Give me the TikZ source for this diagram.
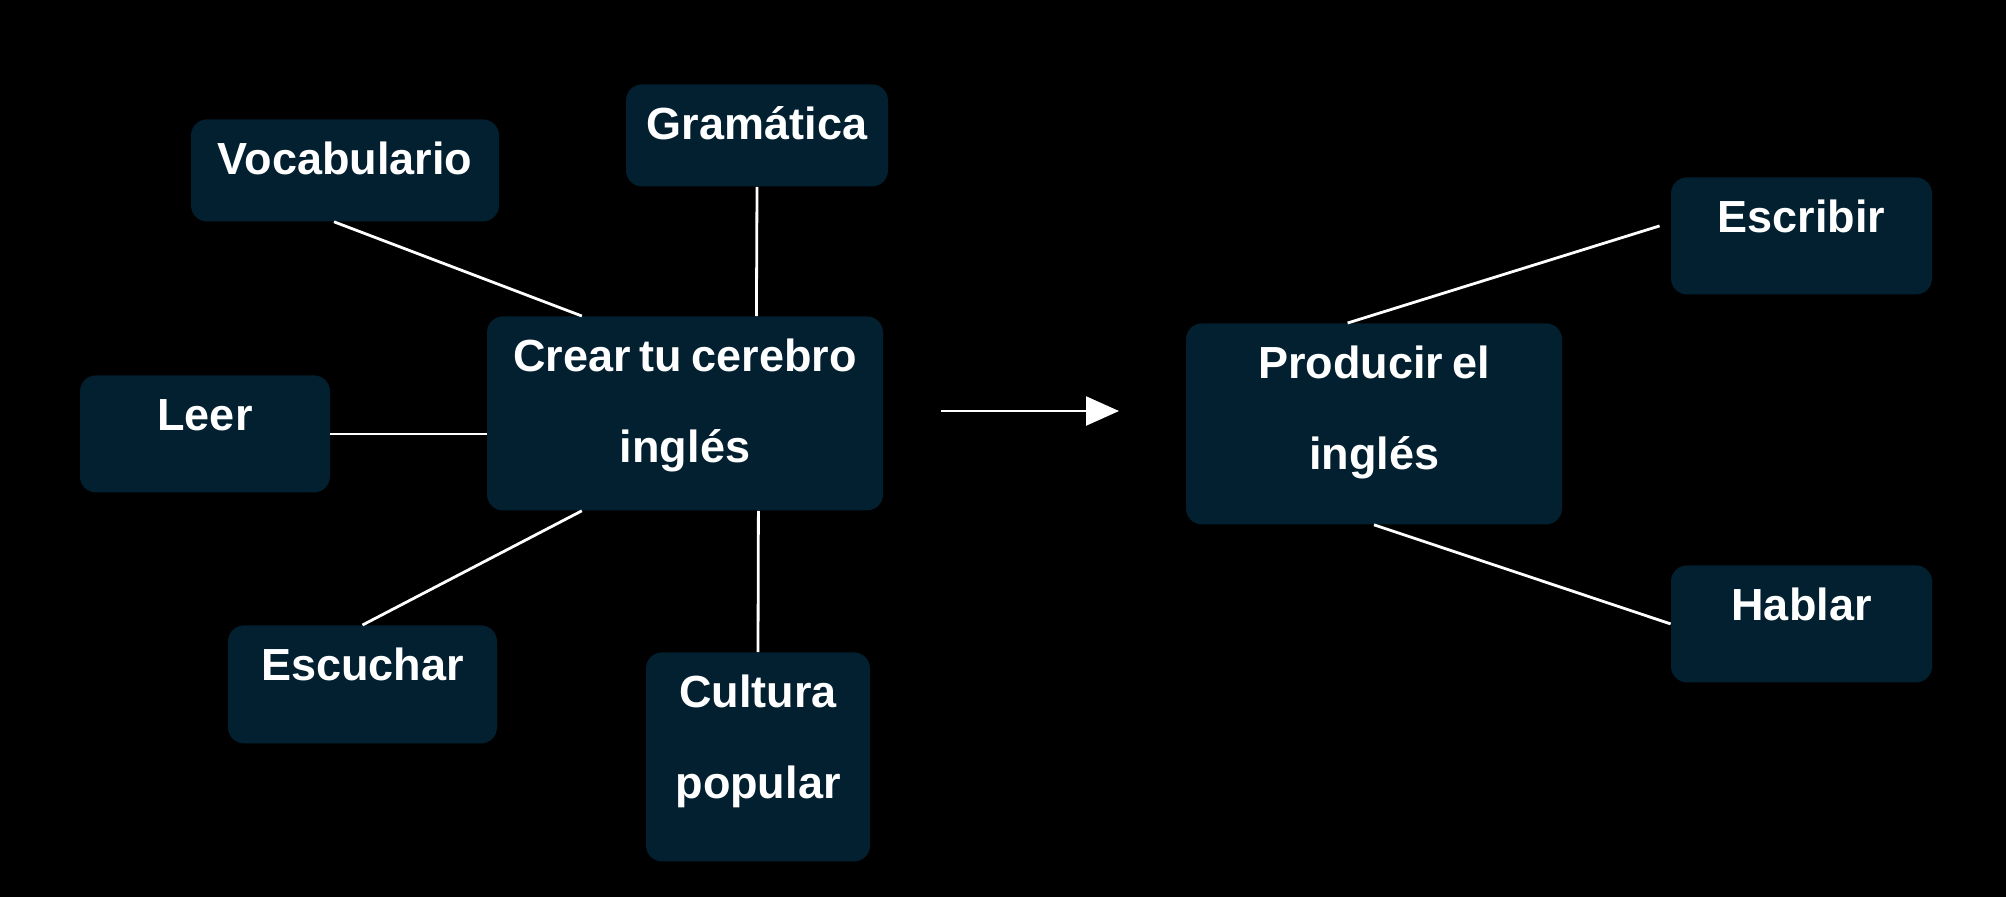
\documentclass[tikz,border=0pt]{standalone}
\usepackage{fontspec}
\setmainfont{Liberation Sans}
\usetikzlibrary{arrows.meta,calc}
\definecolor{boxcol}{HTML}{032030}
\newcommand{\boxfont}{\fontsize{22.5}{45.5}\selectfont\bfseries}
\newcommand{\tightsp}{\spaceskip=0.2em\relax}
\tikzset{
  box/.style={fill=boxcol, draw=none, rounded corners=8pt, inner sep=0pt, align=center,
    text=white, font=\boxfont, text height=27.5pt, anchor=north},
  conn/.style={draw=white, line width=1.4pt},
  flow/.style={draw=white, line width=1.2pt, -{Triangle[length=16.5pt,width=14.5pt]}}
}
\begin{document}
\begin{tikzpicture}[x=0.5pt,y=-0.5pt]
\useasboundingbox (0,0) rectangle (2006,896);
\fill[black] (-10,-10) rectangle (2016,906);
% boxes (anchor north at top centre)
\node[box, text width=154pt, text depth=23.5pt] (vocab) at (345,119) {Vocabulario};
\node[box, text width=131pt, text depth=23.5pt] (gram) at (757,84) {Gramática};
\node[box, text width=198pt, text depth=69.5pt] (crear) at (685,316) {\tightsp Crear tu cerebro\\inglés};
\node[box, text width=125pt, text depth=31pt] (leer) at (205,375) {Leer};
\node[box, text width=134.5pt, text depth=31.5pt] (escuchar) at (362.5,625) {Escuchar};
\node[box, text width=112pt, text depth=77pt] (cultura) at (758,652) {Cultura\\popular};
\node[box, text width=188pt, text depth=73pt] (producir) at (1374,323) {\tightsp Producir el\\inglés};
\node[box, text width=130.5pt, text depth=31pt] (escribir) at (1801.5,177) {Escribir};
\node[box, text width=130.5pt, text depth=31pt] (hablar) at (1801.5,565) {Hablar};
% connectors
\draw[conn] ([xshift=-5.5pt]vocab.south) -- ($(crear.north west)!0.24!(crear.north east)$);
\draw[conn] (gram.south) -- ($(crear.north west)!0.68!(crear.north east)$);
\draw[conn] (leer.east) -- (leer.east -| crear.west);
\draw[conn] ($(crear.south west)!0.24!(crear.south east)$) -- (escuchar.north);
\draw[conn] ($(crear.south west)!0.685!(crear.south east)$) -- (cultura.north);
\coordinate (escend) at ([xshift=-5.5pt,yshift=5pt]escribir.west);
\draw[conn] ($(producir.north west)!0.43!(producir.north east)$) -- (escend);
\draw[conn] (producir.south) -- (hablar.west);
% main arrow
\coordinate (a1) at (941,411);
\coordinate (a2) at (1119,411);
\draw[flow] (a1) -- (a2);
\end{tikzpicture}
\end{document}
